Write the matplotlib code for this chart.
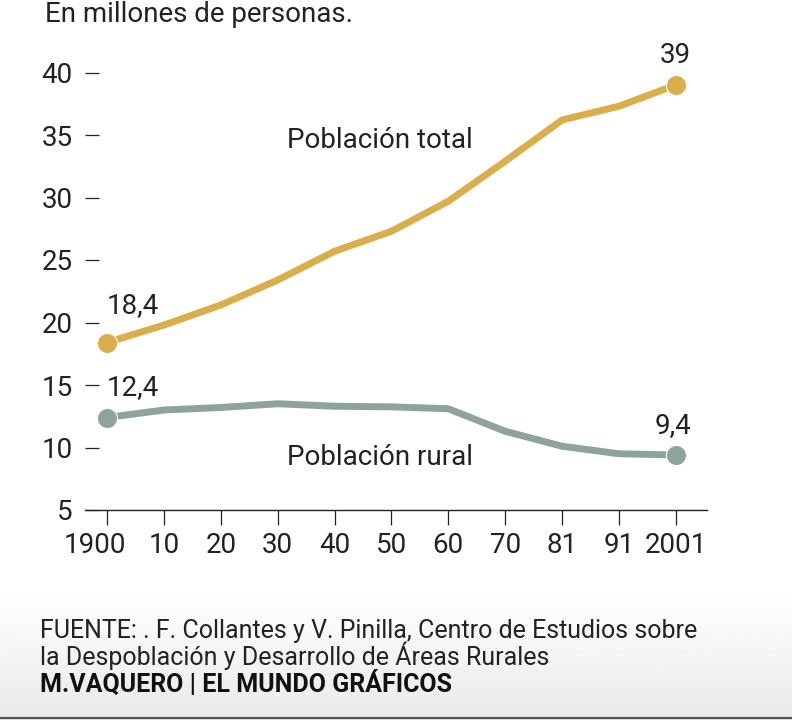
import matplotlib.pyplot as plt
import matplotlib.transforms as mtransforms
import numpy as np

plt.rcParams["font.family"] = ["Roboto", "DejaVu Sans"]

# Data (millions of people)
years = ["1900", "10", "20", "30", "40", "50", "60", "70", "81", "91", "2001"]
total = [18.4, 19.8, 21.4, 23.4, 25.7, 27.3, 29.7, 32.9, 36.2, 37.3, 39.0]
rural = [12.4, 13.0, 13.2, 13.5, 13.3, 13.25, 13.1, 11.3, 10.1, 9.5, 9.4]
yticks = [5, 10, 15, 20, 25, 30, 35, 40]

GOLD = "#DBAE4C"
GREY = "#8FA39C"
TXT = "#222222"
FS = 20

fig = plt.figure(figsize=(7.92, 7.2), dpi=100)

# footer gradient background
bg = fig.add_axes([0, 0, 1, 130 / 720], zorder=-10)
grad = np.linspace(0.915, 1.0, 100).reshape(-1, 1)
bg.imshow(grad, cmap="gray", vmin=0, vmax=1, aspect="auto", origin="lower",
          extent=[0, 1, 0, 1])
bg.axhline(0.012, color="#555555", lw=1.6)
bg.set_xlim(0, 1)
bg.set_ylim(0, 1)
bg.axis("off")

ax = fig.add_axes([85 / 792, 1 - 510 / 720, (707 - 85) / 792, 450 / 720])
ax.patch.set_alpha(0)
x = np.arange(len(years))

ax.plot(x, total, color=GOLD, lw=5, solid_joinstyle="round", zorder=3)
ax.plot(x, rural, color=GREY, lw=5, solid_joinstyle="round", zorder=3)
for series, c in [(total, GOLD), (rural, GREY)]:
    ax.plot([x[0], x[-1]], [series[0], series[-1]], "o", color=c, ms=14.5,
            mec="white", mew=0.8, zorder=4, ls="none")

ax.set_xlim(-0.39, 10.55)
ax.set_ylim(5, 41)
ax.set_xticks(x)
ax.set_xticklabels(years)
ax.set_yticks(yticks)

for s in ["top", "right", "left"]:
    ax.spines[s].set_visible(False)
ax.spines["bottom"].set_color(TXT)
ax.spines["bottom"].set_linewidth(1.0)

ax.tick_params(axis="y", direction="in", length=10, width=0.9, color=TXT,
               labelsize=FS, labelcolor=TXT, pad=9)
ax.tick_params(axis="x", direction="out", length=11, width=0.9, color=TXT,
               labelsize=FS, labelcolor=TXT, pad=5)

# nudge "1900" to the left so it doesn't crowd "10"
lbl = ax.get_xticklabels()[0]
lbl.set_transform(lbl.get_transform() +
                  mtransforms.ScaledTranslation(-12 / 100, 0, fig.dpi_scale_trans))

# value labels
ax.annotate("18,4", (x[0], total[0]), xytext=(0, 21), textcoords="offset points",
            ha="left", va="baseline", fontsize=FS, color=TXT)
ax.annotate("39", (x[-1], total[-1]), xytext=(0, 15.5), textcoords="offset points",
            ha="center", va="baseline", fontsize=FS, color=TXT)
ax.annotate("12,4", (x[0], rural[0]), xytext=(0, 16.5), textcoords="offset points",
            ha="left", va="baseline", fontsize=FS, color=TXT)
ax.annotate("9,4", (x[-1], rural[-1]), xytext=(-2, 16), textcoords="offset points",
            ha="center", va="baseline", fontsize=FS, color=TXT)

# series labels
ax.text(3.16, 33.96, "Población total", fontsize=FS, color=TXT, va="baseline")
ax.text(3.16, 8.6, "Población rural", fontsize=FS, color=TXT, va="baseline")

fig.text(45 / 792, 1 - 22 / 720, "En millones de personas.", fontsize=FS,
         color=TXT, va="baseline")

FFS = 18
fig.text(40 / 792, 1 - 638 / 720,
         "FUENTE: . F. Collantes y V. Pinilla, Centro de Estudios sobre",
         fontsize=FFS, color=TXT, va="baseline")
fig.text(40 / 792, 1 - 665 / 720,
         "la Despoblación y Desarrollo de Áreas Rurales",
         fontsize=FFS, color=TXT, va="baseline")
fig.text(40 / 792, 1 - 692 / 720, "M.VAQUERO | EL MUNDO GRÁFICOS",
         fontsize=FFS, color="#111111", fontweight="bold", va="baseline")

fig.savefig("out.png", dpi=100)
